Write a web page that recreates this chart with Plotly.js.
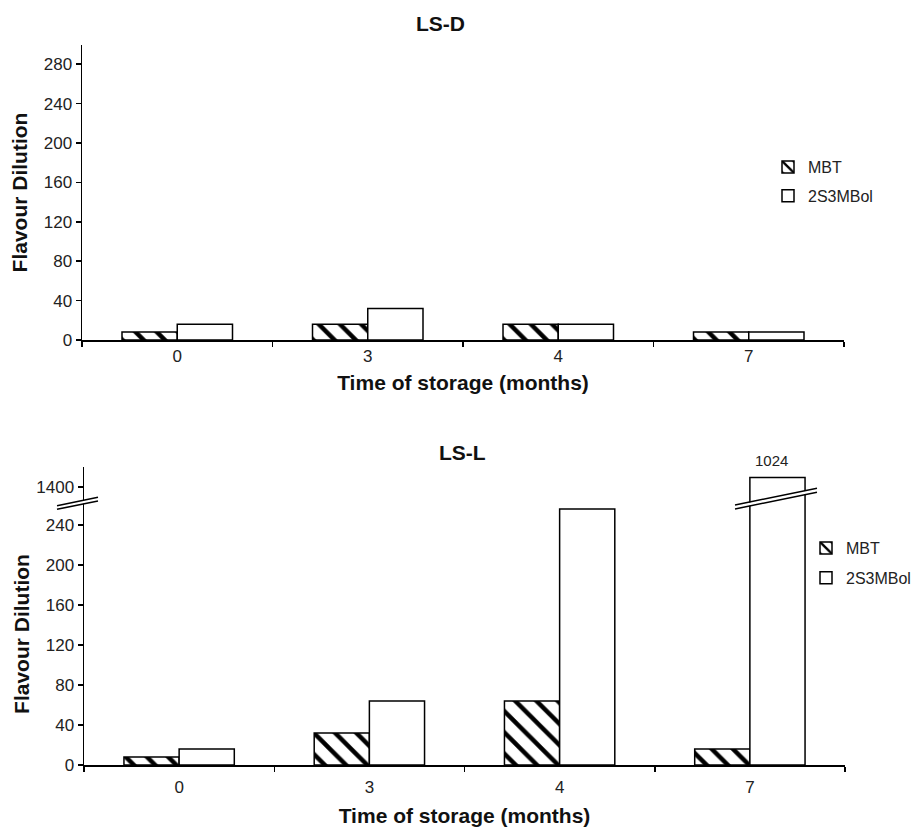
<!DOCTYPE html>
<html>
<head>
<meta charset="utf-8">
<script src="https://cdn.plot.ly/plotly-3.0.1.min.js"></script>
<style>html,body{margin:0;padding:0;background:#fff;overflow:hidden;width:915px;height:827px;}#chart{width:915px;height:827px;}</style>
</head>
<body>
<div id="chart"></div>
<script>
// ---- data ----
const months = ['0', '3', '4', '7'];
const seriesNames = ['MBT', '2S3MBol'];
const lsdMBT = [8, 16, 16, 8];
const lsd2S3MBol = [16, 32, 16, 8];
const lslMBT = [8, 32, 64, 16];
const lsl2S3MBol = [16, 64, 256, 1024];
const lowTicks = [0, 40, 80, 120, 160, 200, 240, 280];
const lowTicksL = [0, 40, 80, 120, 160, 200, 240];
const upperTickVals = [1015];
const upperTickText = ['1400'];
const panelTitles = ['LS-D', 'LS-L'];
const xTitle = 'Time of storage (months)';
const yTitle = 'Flavour Dilution';

// ---- helpers (pixel -> paper) ----
const W = 915, H = 827;
const px = v => v / W;
const py = v => 1 - v / H;
const FONT = 'Liberation Sans, Arial, sans-serif';

const hatch = {shape: '\\', size: 15, solidity: 0.3, fgcolor: '#000', bgcolor: '#fff', fillmode: 'replace'};
const line = {color: '#000', width: 1.5};

function mk(name, x, y, xa, ya, pattern, legend, show) {
  const m = {color: '#fff', line: line};
  if (pattern) m.pattern = hatch;
  return {type: 'bar', name: name, x: x, y: y, xaxis: xa, yaxis: ya, marker: m,
          legend: legend, legendgroup: name + legend, showlegend: show, hoverinfo: 'skip'};
}

const data = [
  mk(seriesNames[0], months, lsdMBT, 'x', 'y', true, 'legend', true),
  mk(seriesNames[1], months, lsd2S3MBol, 'x', 'y', false, 'legend', true),
  mk(seriesNames[0], months, lslMBT, 'x2', 'y2', true, 'legend2', true),
  mk(seriesNames[1], months, lsl2S3MBol, 'x2', 'y2', false, 'legend2', true),
  mk(seriesNames[0], months, lslMBT, 'x2', 'y3', true, 'legend2', false),
  mk(seriesNames[1], months, lsl2S3MBol, 'x2', 'y3', false, 'legend2', false)
];

const tickFont = {family: FONT, size: 17, color: '#222'};
const titleFont = {family: FONT, size: 21, color: '#111', weight: 'bold'};

function xax(d0, d1, anchor, lblOff, standoff) {
  return {domain: [px(d0), px(d1)], anchor: anchor, type: 'category', tickson: 'boundaries',
          ticks: 'outside', ticklen: 5, tickwidth: 1.5, tickcolor: '#000', ticklabelstandoff: lblOff,
          showline: true, linecolor: '#000', linewidth: 1.5, showgrid: false, zeroline: false,
          tickfont: tickFont, fixedrange: true, automargin: false,
          title: {text: xTitle, font: titleFont, standoff: standoff}};
}
function yax(top, bot, range, tv, tt, anchor, title) {
  const a = {domain: [py(bot), py(top)], anchor: anchor, range: range, tickvals: tv,
          ticks: 'outside', ticklen: 5, tickwidth: 1.5, tickcolor: '#000',
          showline: true, linecolor: '#000', linewidth: 1.5, showgrid: false, zeroline: false,
          tickfont: tickFont, fixedrange: true, automargin: false};
  if (tt) a.ticktext = tt;
  if (title) a.title = {text: yTitle, font: titleFont, standoff: 10};
  return a;
}

const legendFont = {family: FONT, size: 16, color: '#222'};
const layout = {
  width: W, height: H,
  margin: {l: 0, r: 0, t: 0, b: 0, autoexpand: false},
  paper_bgcolor: '#fff', plot_bgcolor: 'rgba(0,0,0,0)',
  barmode: 'group', bargap: 0.42, bargroupgap: 0,
  font: {family: FONT, color: '#222'},
  xaxis: xax(82, 844, 'y', 0, 10),
  yaxis: yax(45, 340, [0, 299.5], lowTicks, null, 'x', true),
  xaxis2: xax(84, 845, 'y2', 6, 12),
  yaxis2: yax(503, 765, [0, 262], lowTicksL, null, 'x2', true),
  yaxis3: yax(466.7, 503, [1000, 1034], upperTickVals, upperTickText, 'x2', false),
  legend: {x: px(768), y: py(150), xanchor: 'left', yanchor: 'top', bgcolor: 'rgba(0,0,0,0)',
           font: legendFont, itemwidth: 30, tracegroupgap: 5},
  legend2: {x: px(806), y: py(531), xanchor: 'left', yanchor: 'top', bgcolor: 'rgba(0,0,0,0)',
           font: legendFont, itemwidth: 30, tracegroupgap: 6},
  annotations: [
    {text: panelTitles[0], xref: 'paper', yref: 'paper', x: px(440), y: py(24), showarrow: false,
     xanchor: 'center', yanchor: 'middle', font: titleFont},
    {text: panelTitles[1], xref: 'paper', yref: 'paper', x: px(463), y: py(452), showarrow: false,
     xanchor: 'center', yanchor: 'middle', font: titleFont},
    {text: String(lsl2S3MBol[3]), xref: 'x2', yref: 'y3', x: 3, y: lsl2S3MBol[3], showarrow: false,
     xanchor: 'center', yanchor: 'bottom', xshift: 22, yshift: 6,
     font: {family: FONT, size: 15, color: '#222'}}
  ],
  shapes: [
    // axis break: white gap then two strokes
    {type: 'line', xref: 'paper', yref: 'paper', x0: px(58), y0: py(507.5), x1: px(97), y1: py(499.2), line: {color: '#fff', width: 3}},
    {type: 'line', xref: 'paper', yref: 'paper', x0: px(57), y0: py(505.7), x1: px(98), y1: py(497.3), line: {color: '#000', width: 1.5}},
    {type: 'line', xref: 'paper', yref: 'paper', x0: px(57), y0: py(509.3), x1: px(98), y1: py(501), line: {color: '#000', width: 1.5}},
    // bar break
    {type: 'line', xref: 'paper', yref: 'paper', x0: px(736), y0: py(507), x1: px(816), y1: py(490.3), line: {color: '#fff', width: 3}},
    {type: 'line', xref: 'paper', yref: 'paper', x0: px(735), y0: py(505), x1: px(817), y1: py(488.3), line: {color: '#000', width: 1.5}},
    {type: 'line', xref: 'paper', yref: 'paper', x0: px(735), y0: py(509), x1: px(817), y1: py(492.3), line: {color: '#000', width: 1.5}}
  ]
};

Plotly.newPlot('chart', data, layout, {displayModeBar: false, staticPlot: true});
</script>
</body>
</html>
